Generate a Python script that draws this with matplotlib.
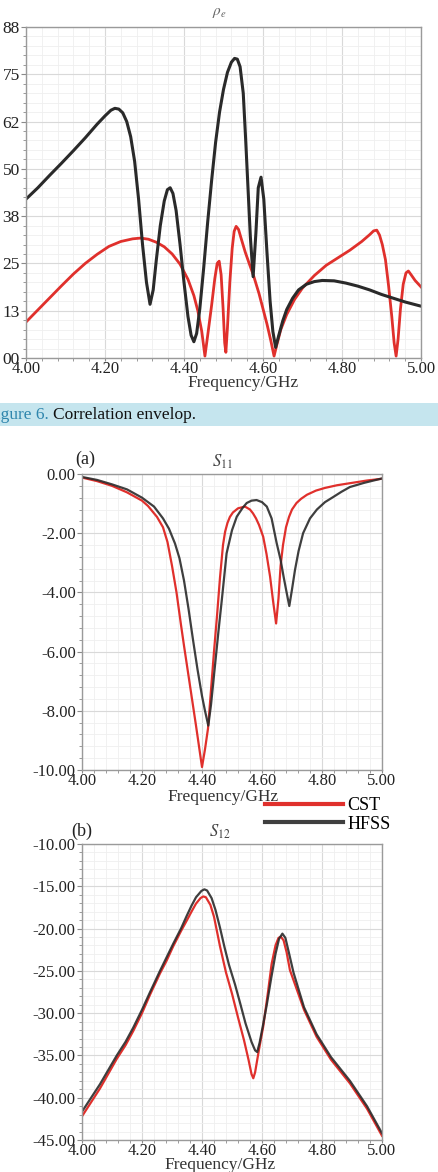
import numpy as np
import matplotlib
matplotlib.use('Agg')
import matplotlib.pyplot as plt
from matplotlib.patches import Rectangle
from matplotlib.ticker import MultipleLocator

plt.rcParams['font.family'] = 'serif'
plt.rcParams['font.serif'] = ['Liberation Serif', 'DejaVu Serif']
plt.rcParams['mathtext.fontset'] = 'stix'

# ---- correlation envelope (rho_e), values in units of 1e-3 ----
f_rho_hfss = [4.00, 4.03, 4.06, 4.09, 4.12, 4.15, 4.18, 4.20, 4.215, 4.225, 4.235, 4.245,
              4.255, 4.265, 4.275, 4.285, 4.295, 4.305, 4.314, 4.322, 4.33, 4.34, 4.35,
              4.358, 4.365, 4.372, 4.38, 4.39, 4.40, 4.41, 4.418, 4.425, 4.432, 4.44, 4.45,
              4.46, 4.47, 4.48, 4.49, 4.50, 4.51, 4.52, 4.528, 4.535, 4.542, 4.55, 4.556,
              4.562, 4.568, 4.575, 4.582, 4.588, 4.595, 4.602, 4.61, 4.618, 4.625, 4.632,
              4.64, 4.65, 4.66, 4.675, 4.69, 4.71, 4.73, 4.75, 4.78, 4.81, 4.84, 4.87,
              4.90, 4.93, 4.96, 5.00]
rho_hfss = [42, 45, 48.3, 51.5, 54.8, 58.2, 61.8, 64.0, 65.5, 66.0, 65.8, 64.8,
            62.5, 58.5, 52, 42, 30, 20, 14.2, 18, 26, 35, 41.5,
            44.5, 45, 43.5, 39, 30, 20, 11, 6, 4.3, 6.5, 13, 24,
            36, 47, 57, 65, 71, 75.5, 78.2, 79.2, 79, 77, 70, 58,
            45, 32, 21.5, 33, 45, 47.8, 42, 28, 15, 7, 2.8,
            6, 9.8, 12.8, 15.8, 18, 19.5, 20.2, 20.5, 20.4, 19.8, 19, 18,
            16.8, 15.8, 14.8, 13.7]

f_rho_cst = [4.00, 4.03, 4.06, 4.09, 4.12, 4.15, 4.18, 4.21, 4.24, 4.27, 4.29, 4.31, 4.33,
             4.35, 4.37, 4.39, 4.41, 4.425, 4.435, 4.445, 4.453, 4.46, 4.47, 4.478, 4.484,
             4.489, 4.494, 4.499, 4.503, 4.506, 4.51, 4.516, 4.522, 4.527, 4.532, 4.538,
             4.545, 4.555, 4.565, 4.576, 4.59, 4.60, 4.61, 4.62, 4.628, 4.635, 4.645, 4.66,
             4.68, 4.70, 4.73, 4.76, 4.79, 4.82, 4.85, 4.87, 4.88, 4.888, 4.895, 4.902,
             4.91, 4.918, 4.926, 4.932, 4.937, 4.942, 4.948, 4.955, 4.962, 4.968, 4.975,
             4.985, 5.00]
rho_cst = [9.5, 12.7, 15.9, 19.1, 22.2, 25.0, 27.4, 29.5, 30.8, 31.5, 31.7, 31.4, 30.6,
           29.4, 27.5, 24.8, 20.8, 16.5, 12.5, 7, 0.5, 6, 14, 21, 25,
           25.6, 22, 13, 4, 1.5, 8, 20, 29, 33.5, 34.8, 34,
           31.5, 28, 25, 21.8, 17, 13, 9, 4.5, 0.5, 3.5, 7.5, 11.5,
           15.5, 18.5, 21.8, 24.5, 26.5, 28.5, 30.8, 32.6, 33.6, 33.8, 32.5, 30,
           26, 19, 11, 4, 0.5, 5, 13, 19.5, 22.5, 23, 22,
           20.5, 18.8]
rho_ticks = [0, 12.5, 25, 37.5, 50, 62.5, 75, 87.5]
rho_labels = ['00', '13', '25', '38', '50', '62', '75', '88']

# ---- S11 (dB) ----
f_s11_cst = [4.00, 4.05, 4.10, 4.15, 4.20, 4.22, 4.25, 4.27, 4.285, 4.30, 4.315, 4.33, 4.34,
             4.36, 4.38, 4.39, 4.40, 4.41, 4.42, 4.43, 4.44, 4.45, 4.46, 4.47, 4.477, 4.485,
             4.493, 4.503, 4.52, 4.543, 4.56, 4.57, 4.58, 4.59, 4.604, 4.615, 4.627, 4.637,
             4.647, 4.655, 4.662, 4.67, 4.68, 4.69, 4.70, 4.715, 4.73, 4.75, 4.78, 4.81,
             4.85, 4.90, 4.95, 5.00]
s11_cst = [-0.12, -0.24, -0.4, -0.62, -0.9, -1.08, -1.45, -1.8, -2.3, -3.1, -4.0, -5.1, -5.8,
           -7.15, -8.5, -9.2, -9.9, -9.3, -8.6, -7.3, -6.0, -4.8, -3.5, -2.4, -1.95, -1.65,
           -1.45, -1.3, -1.16, -1.1, -1.2, -1.33, -1.5, -1.72, -2.12, -2.7, -3.47, -4.3,
           -5.05, -4.2, -3.1, -2.4, -1.8, -1.45, -1.2, -0.98, -0.84, -0.7, -0.56, -0.47,
           -0.38, -0.3, -0.22, -0.16]

f_s11_hfss = [4.00, 4.05, 4.10, 4.15, 4.20, 4.24, 4.27, 4.29, 4.31, 4.325, 4.34, 4.355, 4.37,
              4.385, 4.40, 4.41, 4.421, 4.43, 4.443, 4.455, 4.466, 4.482, 4.50, 4.516, 4.535,
              4.549, 4.565, 4.582, 4.60, 4.616, 4.632, 4.649, 4.662, 4.672, 4.682, 4.691,
              4.70, 4.71, 4.722, 4.737, 4.76, 4.783, 4.81, 4.837, 4.865, 4.893, 4.94, 5.00]
s11_hfss = [-0.1, -0.2, -0.35, -0.52, -0.8, -1.1, -1.5, -1.85, -2.35, -2.85, -3.6, -4.55, -5.6,
            -6.6, -7.5, -8.0, -8.5, -7.8, -6.5, -5.3, -4.26, -2.68, -1.9, -1.44, -1.15,
            -0.98, -0.9, -0.88, -0.95, -1.1, -1.5, -2.34, -2.9, -3.47, -4.0, -4.46,
            -3.9, -3.24, -2.6, -2.0, -1.5, -1.2, -0.95, -0.78, -0.6, -0.44, -0.3, -0.15]

# ---- S12 (dB) ----
f_s12_cst = [4.00, 4.06, 4.116, 4.145, 4.171, 4.20, 4.227, 4.26, 4.282, 4.304, 4.33, 4.35,
             4.365, 4.38, 4.395, 4.404, 4.413, 4.428, 4.44, 4.46, 4.48, 4.50, 4.52, 4.54,
             4.555, 4.565, 4.571, 4.577, 4.59, 4.604, 4.62, 4.632, 4.645, 4.655, 4.663,
             4.672, 4.682, 4.693, 4.71, 4.74, 4.782, 4.83, 4.893, 4.95, 5.00]
s12_cst = [-42.2, -38.9, -35.4, -33.8, -32.1, -30.0, -27.8, -25.3, -23.8, -22.1, -20.3, -19.0,
           -18.0, -17.05, -16.4, -16.2, -16.3, -17.2, -18.6, -22.1, -25.2, -27.7, -30.5, -33.2,
           -35.5, -37.2, -37.7, -37.0, -34.3, -31.6, -27.5, -24.2, -22.0, -21.1, -20.96,
           -21.4, -22.8, -24.9, -26.6, -29.6, -32.8, -35.5, -38.3, -41.3, -44.5]

f_s12_hfss = [4.00, 4.06, 4.116, 4.145, 4.171, 4.20, 4.227, 4.26, 4.282, 4.304, 4.33, 4.349,
              4.365, 4.38, 4.398, 4.408, 4.417, 4.432, 4.445, 4.46, 4.475, 4.49, 4.51, 4.527,
              4.545, 4.565, 4.577, 4.584, 4.592, 4.604, 4.616, 4.63, 4.645, 4.657, 4.668,
              4.678, 4.69, 4.705, 4.74, 4.782, 4.83, 4.893, 4.95, 5.00]
s12_hfss = [-41.65, -38.4, -35.0, -33.4, -31.7, -29.6, -27.5, -25.0, -23.4, -21.8, -20.0, -18.5,
            -17.3, -16.3, -15.55, -15.36, -15.5, -16.4, -17.8, -19.9, -22.2, -24.3, -26.6, -28.8,
            -31.2, -33.4, -34.4, -34.6, -33.5, -31.3, -29.0, -26.0, -23.0, -21.2, -20.6,
            -21.1, -22.9, -25.2, -29.3, -32.5, -35.2, -38.0, -41.0, -44.2]

red = '#e0302c'
black = '#2a2a2a'

W, H = 439, 1172
fig = plt.figure(figsize=(W / 100, H / 100), dpi=100)


def px_axes(l, t, r, b):
    return fig.add_axes([l / W, 1 - b / H, (r - l) / W, (b - t) / H])


def style(ax, xmin, xmax, ymin, ymax, yminor):
    ax.set_xlim(xmin, xmax)
    ax.set_ylim(ymin, ymax)
    ax.xaxis.set_major_locator(MultipleLocator(0.2))
    ax.xaxis.set_minor_locator(MultipleLocator(0.04))
    ax.yaxis.set_minor_locator(MultipleLocator(yminor))
    ax.xaxis.set_major_formatter(plt.FormatStrFormatter('%.2f'))
    ax.grid(which='major', color='#d9d9d9', lw=0.8)
    ax.grid(which='minor', color='#efefef', lw=0.6)
    ax.set_axisbelow(True)
    for s in ax.spines.values():
        s.set_color('#9a9a9a')
        s.set_linewidth(1.0)
    ax.tick_params(which='both', direction='out', colors='#8a8a8a', labelcolor='#222222',
                   top=False, right=False, labelsize=12, pad=1)
    ax.tick_params(which='major', length=3.5, width=0.8)
    ax.tick_params(which='minor', length=2.2, width=0.6)
    ax.tick_params(axis='x', which='major', length=2.5, pad=0)


# ---- top: correlation envelope ----
ax0 = px_axes(26, 27, 421, 358)
ax0.plot(f_rho_cst, rho_cst, color=red, lw=2.0, solid_joinstyle='round')
ax0.plot(f_rho_hfss, rho_hfss, color=black, lw=2.2, solid_joinstyle='round')
style(ax0, 4.0, 5.0, 0, 87.5, 2.5)
ax0.set_yticks(rho_ticks)
ax0.set_yticklabels(rho_labels)
ax0.tick_params(axis='y', labelsize=12.5)
ax0.text(0.49, 1.02, r'$\rho_e$', transform=ax0.transAxes, ha='center', va='bottom',
         fontsize=11, color='#666666')
fig.text(243 / W, 1 - 383 / H, 'Frequency/GHz', ha='center', va='center', fontsize=12.5,
         color='#333333')

# ---- caption band ----
fig.patches.append(Rectangle((0, 1 - 426 / H), 1, 23 / H, transform=fig.transFigure,
                             facecolor='#c5e5ee', edgecolor='none', zorder=0))
fig.text(49 / W, 1 - 415 / H, 'Figure 6.', ha='right', va='center', fontsize=12.5,
         color='#2f86ad')
fig.text(53 / W, 1 - 415 / H, 'Correlation envelop.', ha='left', va='center', fontsize=12.5,
         color='#111111')

# ---- (a) S11 ----
ax1 = px_axes(82, 474, 382, 770)
l_cst, = ax1.plot(f_s11_cst, s11_cst, color=red, lw=1.6, solid_joinstyle='round')
l_hfss, = ax1.plot(f_s11_hfss, s11_hfss, color=black, lw=1.6, solid_joinstyle='round', alpha=0.9)
style(ax1, 4.0, 5.0, -10, 0, 0.4)
ax1.yaxis.set_major_locator(MultipleLocator(2))
ax1.yaxis.set_major_formatter(plt.FormatStrFormatter('%.2f'))
ax1.text(0.467, 1.01, r'$S_{11}$', transform=ax1.transAxes, ha='center', va='bottom',
         fontsize=12, color='#444444')
fig.text(85 / W, 1 - 459 / H, '(a)', ha='center', va='center', fontsize=13, color='#222222')
fig.text(223 / W, 1 - 797 / H, 'Frequency/GHz', ha='center', va='center', fontsize=12.5,
         color='#333333')

leg = fig.legend([l_cst, l_hfss], ['CST', 'HFSS'], loc='upper left',
                 bbox_to_anchor=(265 / W, 1 - 797 / H), frameon=False, fontsize=13,
                 handlelength=4.3, handletextpad=0.25, labelspacing=0.1, borderpad=0,
                 borderaxespad=0)
for h in leg.legend_handles:
    h.set_linewidth(3)

# ---- (b) S12 ----
ax2 = px_axes(82, 844, 382, 1140)
ax2.plot(f_s12_cst, s12_cst, color=red, lw=1.6, solid_joinstyle='round')
ax2.plot(f_s12_hfss, s12_hfss, color=black, lw=1.6, solid_joinstyle='round', alpha=0.9)
style(ax2, 4.0, 5.0, -45, -10, 1)
ax2.yaxis.set_major_locator(MultipleLocator(5))
ax2.yaxis.set_major_formatter(plt.FormatStrFormatter('%.2f'))
ax2.text(0.46, 1.01, r'$S_{12}$', transform=ax2.transAxes, ha='center', va='bottom',
         fontsize=12, color='#444444')
fig.text(82 / W, 1 - 831 / H, '(b)', ha='center', va='center', fontsize=13, color='#222222')
fig.text(220 / W, 1 - 1165 / H, 'Frequency/GHz', ha='center', va='center', fontsize=12.5,
         color='#333333')

fig.savefig('out.png', dpi=100)
